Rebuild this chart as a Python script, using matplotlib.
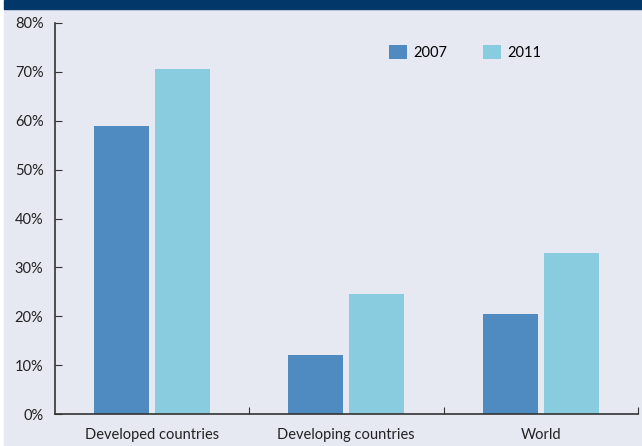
import numpy as np
import matplotlib.pyplot as plt
from matplotlib.patches import Rectangle

categories = ["Developed countries", "Developing countries", "World"]
years = ["2007", "2011"]
values_2007 = [59, 12, 20.5]
values_2011 = [70.5, 24.5, 33]
yticks = [0, 10, 20, 30, 40, 50, 60, 70, 80]

plt.rcParams['font.family'] = ['Lato', 'DejaVu Sans']

bg = '#e6e8f2'
fig = plt.figure(figsize=(6.42, 4.46), dpi=100, facecolor='white')
# light panel and dark top band, kept behind the axes
fig.patches.append(Rectangle((4 / 642, 0), 637 / 642, 436 / 446,
                             transform=fig.transFigure, color=bg, zorder=-10))
fig.patches.append(Rectangle((4 / 642, 437 / 446), 638 / 642, 9 / 446,
                             transform=fig.transFigure, color='#023769', zorder=-10))

ax = fig.add_axes([54.5 / 642, (446 - 414) / 446, 583.5 / 642, 391 / 446])
ax.set_facecolor('none')

x = np.arange(len(categories))
w = 0.283
gap = 0.0155
ax.bar(x - w / 2 - gap, values_2007, w, color='#4f8bc0', label=years[0])
ax.bar(x + w / 2 + gap, values_2011, w, color='#89cbdf', label=years[1])

ax.set_xlim(-0.5, 2.5)
ax.set_ylim(0, 80)
ax.set_yticks(yticks)
ax.set_yticklabels([f"{v}%" for v in yticks], fontsize=10.5, color='#222222')
ax.set_xticks([0.5, 1.5, 2.5])
ax.set_xticklabels([])
ax.set_xticks(x, minor=True)
ax.set_xticklabels(categories, minor=True, fontsize=10.5, color='#222222')
ax.tick_params(axis='x', which='minor', length=0, pad=10)
ax.tick_params(axis='x', which='major', direction='in', length=5, color='#333333')
ax.tick_params(axis='y', direction='in', length=5, color='#333333', pad=8)

for s in ['top', 'right']:
    ax.spines[s].set_visible(False)
for s in ['left', 'bottom']:
    ax.spines[s].set_color('#333333')
    ax.spines[s].set_linewidth(1.2)

ax.legend(loc='upper left', bbox_to_anchor=(0.573, 0.944), ncol=2, frameon=False,
          fontsize=10.5, handlelength=1.23, handleheight=1.1, columnspacing=2.4,
          handletextpad=0.48, borderpad=0, borderaxespad=0)

fig.savefig("out.png", dpi=100, facecolor='white')
